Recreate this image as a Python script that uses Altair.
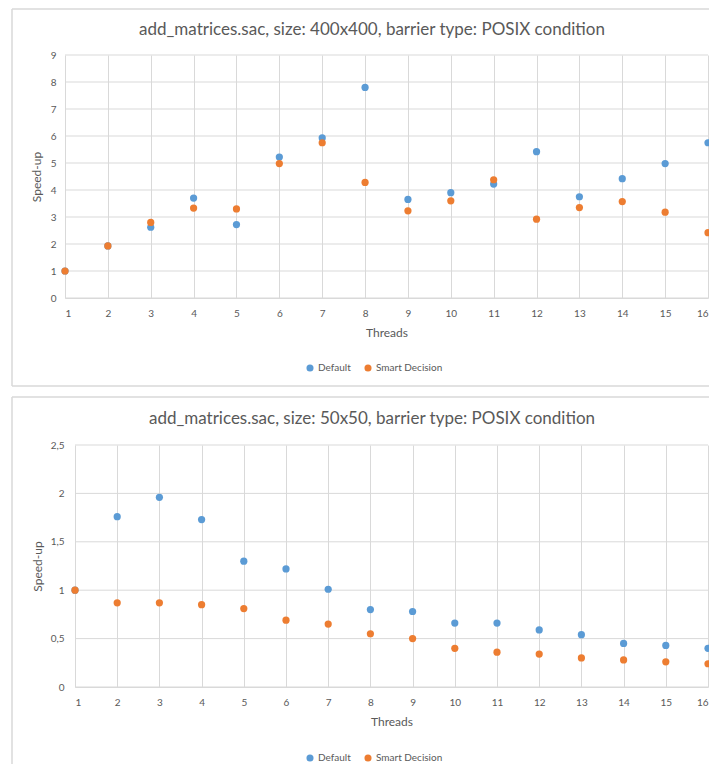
import altair as alt
import pandas as pd

threads = list(range(1, 17))
series = ["Default", "Smart Decision"]

top_default = [1.0, 1.93, 2.62, 3.70, 2.72, 5.22, 5.93, 7.80, 3.65, 3.90, 4.22, 5.42, 3.75, 4.42, 4.98, 5.75]
top_smart = [1.0, 1.93, 2.80, 3.33, 3.30, 4.98, 5.75, 4.28, 3.23, 3.60, 4.38, 2.92, 3.35, 3.57, 3.18, 2.42]
bot_default = [1.0, 1.76, 1.96, 1.73, 1.30, 1.22, 1.01, 0.80, 0.78, 0.66, 0.66, 0.59, 0.54, 0.45, 0.43, 0.40]
bot_smart = [1.0, 0.87, 0.87, 0.85, 0.81, 0.69, 0.65, 0.55, 0.50, 0.40, 0.36, 0.34, 0.30, 0.28, 0.26, 0.24]

top_title = "add_matrices.sac, size: 400x400, barrier type: POSIX condition"
bot_title = "add_matrices.sac, size: 50x50, barrier type: POSIX condition"
top_yticks = [0, 1, 2, 3, 4, 5, 6, 7, 8, 9]
bot_yticks = [0, 0.5, 1, 1.5, 2, 2.5]

FONT = "Lato"
TEXT = "#595959"
GRID = "#D9D9D9"
BORDER = "#D9D9D9"
COLORS = ["#5B9BD5", "#ED7D31"]
W = 643


def frame(d, s):
    return pd.DataFrame({
        "Threads": threads * 2,
        "Speed-up": d + s,
        "Series": [series[0]] * 16 + [series[1]] * 16,
    })


one = pd.DataFrame({"k": [0]})


def panel(df, title, yticks, h, x0, box_top, box_bottom, title_y, legend_y, comma,
          label_pad, title_pad, bottom_edge):
    label_expr = "replace(toString(datum.value), '.', ',')" if comma else "toString(datum.value)"
    xscale = alt.Scale(domain=[1, 16], nice=False, zero=False, range=[x0, W])
    yscale = alt.Scale(domain=[yticks[0], yticks[-1]], nice=False)
    x = alt.X("Threads:Q", scale=xscale,
              axis=alt.Axis(values=threads, title="Threads", ticks=False, grid=True,
                            labelPadding=10, titlePadding=9, format="d"))
    y = alt.Y("Speed-up:Q", scale=yscale,
              axis=alt.Axis(values=yticks, title="Speed-up", ticks=False, grid=False,
                            domain=False, labelPadding=label_pad,
                            titlePadding=title_pad, labelExpr=label_expr))
    pts = alt.Chart(df).mark_circle(size=52, opacity=1).encode(
        x=x, y=y,
        color=alt.Color("Series:N",
                        scale=alt.Scale(domain=series, range=COLORS),
                        legend=alt.Legend(orient="none", legendX=240, legendY=legend_y,
                                          direction="horizontal", title=None,
                                          symbolType="circle", symbolSize=50,
                                          labelFontSize=10, labelFont=FONT, labelColor=TEXT,
                                          columnPadding=12, labelOffset=3)),
    )
    grid = alt.Chart(pd.DataFrame({"Speed-up": yticks})).mark_rule(
        color=GRID, strokeWidth=1).encode(y=y, x=alt.value(x0), x2=alt.value(W))
    rules = []
    rules.append(alt.Chart(one).mark_rule(color=BORDER, strokeWidth=1.5).encode(
        x=alt.value(-53), x2=alt.value(W + 40), y=alt.value(box_top)))
    rules.append(alt.Chart(one).mark_rule(color=BORDER, strokeWidth=1.5).encode(
        x=alt.value(-53), y=alt.value(box_top), y2=alt.value(box_bottom)))
    if bottom_edge:
        rules.append(alt.Chart(one).mark_rule(color=BORDER, strokeWidth=1.5).encode(
            x=alt.value(-53), x2=alt.value(W + 40), y=alt.value(box_bottom)))
    ttl = alt.Chart(one).mark_text(font=FONT, fontSize=17, color=TEXT, align="center",
                                   baseline="middle").encode(
        x=alt.value(307), y=alt.value(title_y), text=alt.value(title))
    return alt.layer(*rules, grid, ttl, pts).properties(width=W, height=h)


top = panel(frame(top_default, top_smart), top_title, top_yticks,
            h=243, x0=0, box_top=-46, box_bottom=331, title_y=-25, legend_y=308,
            comma=False, label_pad=9, title_pad=7, bottom_edge=True)
bottom = panel(frame(bot_default, bot_smart), bot_title, bot_yticks,
               h=242, x0=10, box_top=-48, box_bottom=340, title_y=-26, legend_y=308,
               comma=True, label_pad=1, title_pad=6, bottom_edge=False)

chart = alt.vconcat(top, bottom, spacing=9).resolve_scale(
    x="independent", y="independent", color="independent"
).properties(
    padding={"left": 3, "top": 0, "right": -40, "bottom": -22}
).configure_view(stroke=None).configure_axis(
    labelFont=FONT, titleFont=FONT, labelColor=TEXT, titleColor=TEXT,
    labelFontSize=10, titleFontSize=12, titleFontWeight="normal",
    gridColor=GRID, domainColor=GRID,
)

chart.save("out.html", embed_options={"renderer": "svg", "actions": False})
